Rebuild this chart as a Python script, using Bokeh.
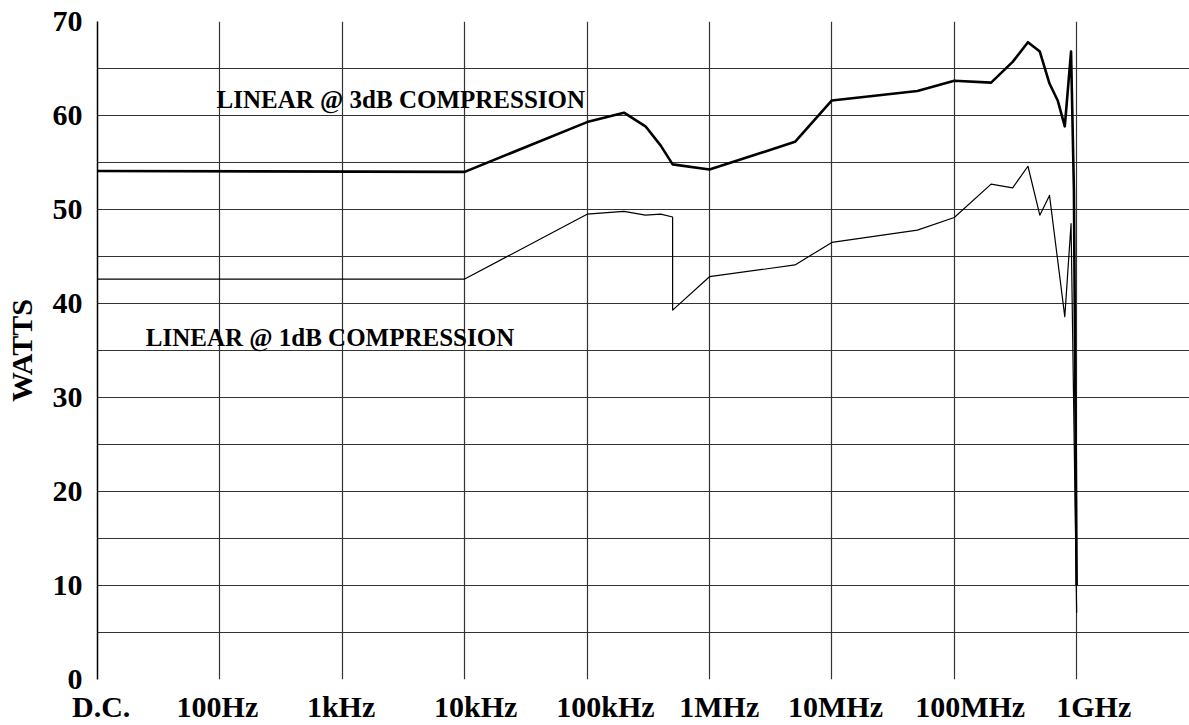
from bokeh.plotting import figure
from bokeh.models import Range1d, FixedTicker, Label
from bokeh.embed import file_html
from bokeh.resources import INLINE

# ---- data (frequency in Hz, D.C. drawn at the 10 Hz position) ----
freq_3db_hz = [10, 1e4, 1e5, 2e5, 3e5, 4e5, 5e5, 1e6, 5e6, 1e7, 5e7, 1e8, 2e8, 3e8,
               4e8, 5e8, 6e8, 7e8, 8e8, 9e8, 9.5e8, 1e9]
watts_3db = [54.1, 54.0, 59.3, 60.3, 58.85, 56.8, 54.8, 54.25, 57.2, 61.6, 62.6, 63.7,
             63.5, 65.7, 67.8, 66.8, 63.4, 61.6, 58.85, 66.8, 52.0, 10.0]

freq_1db_hz = [10, 1e4, 1e5, 2e5, 3e5, 4e5, 5e5, 5e5, 1e6, 5e6, 1e7, 5e7, 1e8, 2e8,
               3e8, 4e8, 5e8, 6e8, 8e8, 9e8, 1e9]
watts_1db = [42.6, 42.6, 49.5, 49.8, 49.4, 49.5, 49.2, 39.3, 42.85, 44.1, 46.5, 47.8,
             49.15, 52.7, 52.3, 54.6, 49.4, 51.5, 38.6, 48.5, 7.1]

x_tick_labels = ["D.C.", "100Hz", "1kHz", "10kHz", "100kHz", "1MHz", "10MHz", "100MHz", "1GHz"]
x_label_log_pos = [1.03, 1.98, 2.99, 4.09, 5.15, 6.08, 7.03, 8.13, 9.14]
grid_freqs_hz = [1e1, 1e2, 1e3, 1e4, 1e5, 1e6, 1e7, 1e8, 1e9]
y_ticks = [0, 10, 20, 30, 40, 50, 60, 70]
y_grid = [0, 5, 10, 15, 20, 25, 30, 35, 40, 45, 50, 55, 60, 65, 70]

curve_labels = ["LINEAR @ 3dB COMPRESSION", "LINEAR @ 1dB COMPRESSION"]
curve_label_x_hz = [94, 24.8]
curve_label_y = [61.7, 36.4]

FONT = "Liberation Serif"

p = figure(width=1189, height=725, x_axis_type="log",
           x_range=Range1d(10, 10 ** 9.922), y_range=Range1d(0, 70),
           output_backend="svg", toolbar_location=None,
           min_border_left=97, min_border_right=0, min_border_top=21, min_border_bottom=45)
p.outline_line_color = None
p.background_fill_color = "white"
p.border_fill_color = "white"

# x axis: labels only, placed at the reference's label positions
label_ticks = [10 ** v for v in x_label_log_pos]
xa = p.xaxis[0]
xa.ticker = FixedTicker(ticks=label_ticks)
xa.major_label_overrides = {t: s for t, s in zip(label_ticks, x_tick_labels)}
xa.axis_line_color = None
xa.major_tick_line_color = None
xa.minor_tick_line_color = None
xa.major_tick_in = 0
xa.major_tick_out = 0
xa.major_label_standoff = 10
xa.major_label_text_font = FONT
xa.major_label_text_font_style = "bold"
xa.major_label_text_font_size = "30px"
xa.major_label_text_color = "black"

p.xgrid.ticker = FixedTicker(ticks=grid_freqs_hz)
p.ygrid.ticker = FixedTicker(ticks=y_grid)
for g in (p.xgrid, p.ygrid):
    g.grid_line_color = "#333333"
    g.grid_line_width = 1.2

ya = p.yaxis[0]
ya.ticker = FixedTicker(ticks=y_ticks)
ya.major_tick_in = 0
ya.major_tick_out = 0
ya.minor_tick_line_color = None
ya.major_tick_line_color = None
ya.axis_line_color = "black"
ya.axis_line_width = 1.5
ya.major_label_standoff = 15
ya.major_label_text_font = FONT
ya.major_label_text_font_style = "bold"
ya.major_label_text_font_size = "30px"
ya.major_label_text_color = "black"
ya.axis_label = "WATTS"
ya.axis_label_text_font = FONT
ya.axis_label_text_font_style = "bold"
ya.axis_label_text_font_size = "30px"
ya.axis_label_text_color = "black"
ya.axis_label_standoff = 12

p.line(freq_3db_hz, watts_3db, line_width=2.6, line_color="black", line_join="round")
p.line(freq_1db_hz, watts_1db, line_width=1.2, line_color="black", line_join="round")

for txt, lx, ly in zip(curve_labels, curve_label_x_hz, curve_label_y):
    p.add_layout(Label(x=lx, y=ly, text=txt, text_font=FONT, text_font_style="bold",
                       text_font_size="25px", text_color="black",
                       text_align="left", text_baseline="alphabetic"))

open("out.html", "w").write(file_html(p, INLINE))
